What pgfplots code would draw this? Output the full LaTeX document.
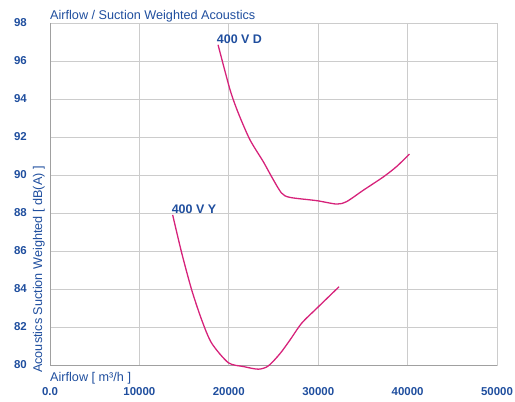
\documentclass[border=0pt]{standalone}
\usepackage{fontspec}
\setmainfont{Liberation Sans}
\usepackage{pgfplots}
\pgfplotsset{compat=1.18}
\definecolor{txtblue}{HTML}{1F4E9E}
\definecolor{curvecol}{HTML}{D6227A}
\definecolor{gridgray}{HTML}{CCCCCC}
\definecolor{axgray}{HTML}{A0A0A0}
\begin{document}
\begin{tikzpicture}
\begin{axis}[
  scale only axis, width=447bp, height=342bp,
  xmin=0, xmax=50000, ymin=80, ymax=98,
  xtick={0,10000,20000,30000,40000,50000},
  xticklabels={0.0,10000,20000,30000,40000,50000},
  ytick={80,82,...,98},
  scaled x ticks=false,
  /pgf/number format/assume math mode=true,
  major tick length=0pt,
  grid=major,
  major grid style={gridgray, line width=0.9pt},
  axis line style={gridgray, line width=0.9pt},
  tick label style={font=\fontsize{11.5}{12}\selectfont\bfseries, text=txtblue},
  yticklabel style={anchor=east, inner sep=0pt, xshift=-23bp},
  xticklabel style={anchor=center, inner sep=0pt, yshift=-27bp},
  clip=false,
]
\draw[axgray, line width=1pt] (rel axis cs:0,1) -- (rel axis cs:0,0) -- (rel axis cs:1,0);

% 400 V D
\addplot[curvecol, line width=1.3pt, smooth, tension=0.45] coordinates {
  (18800,96.85) (20130,94.5) (21070,93.25) (22370,91.85) (23860,90.7)
  (24800,89.9) (25900,89.05) (26850,88.82) (29830,88.65) (32070,88.47)
  (33180,88.6) (35050,89.2) (37290,89.9) (38780,90.45) (40200,91.1)
};
% 400 V Y
\addplot[curvecol, line width=1.3pt, smooth, tension=0.45] coordinates {
  (13720,87.9) (14730,85.9) (15850,83.95) (16970,82.37) (18080,81.15)
  (19950,80.12) (21630,79.92) (23300,79.78) (24420,79.95) (25730,80.6)
  (26850,81.32) (28150,82.2) (29830,82.98) (32330,84.12)
};

\node[anchor=base west, inner sep=0pt, font=\fontsize{12.5}{14}\selectfont\bfseries, text=txtblue]
  at (axis cs:18650,96.9) {400 V D};
\node[anchor=base west, inner sep=0pt, font=\fontsize{12.5}{14}\selectfont\bfseries, text=txtblue]
  at (axis cs:13600,87.95) {400 V Y};

\node[anchor=base west, inner sep=0pt, font=\fontsize{12.7}{14}\selectfont, text=txtblue]
  at (rel axis cs:0,1) [yshift=3.5bp] {Airflow / Suction Weighted Acoustics};
\node[anchor=base west, inner sep=0pt, font=\fontsize{12.7}{14}\selectfont, text=txtblue]
  at (rel axis cs:0,0) [yshift=-16bp] {Airflow [ m³/h ]};
\node[anchor=base west, inner sep=0pt, rotate=90, font=\fontsize{12.7}{14}\selectfont, text=txtblue]
  at (rel axis cs:0,0) [xshift=-8bp, yshift=8bp] {Acoustics Suction Weighted [ dB(A) ]};

\coordinate (sw) at (rel axis cs:0,0);
\coordinate (ne) at (rel axis cs:1,1);
\end{axis}
\pgfresetboundingbox
\path[use as bounding box] ([shift={(-50bp,-36bp)}]sw) rectangle ([shift={(18bp,23bp)}]ne);
\end{tikzpicture}
\end{document}
